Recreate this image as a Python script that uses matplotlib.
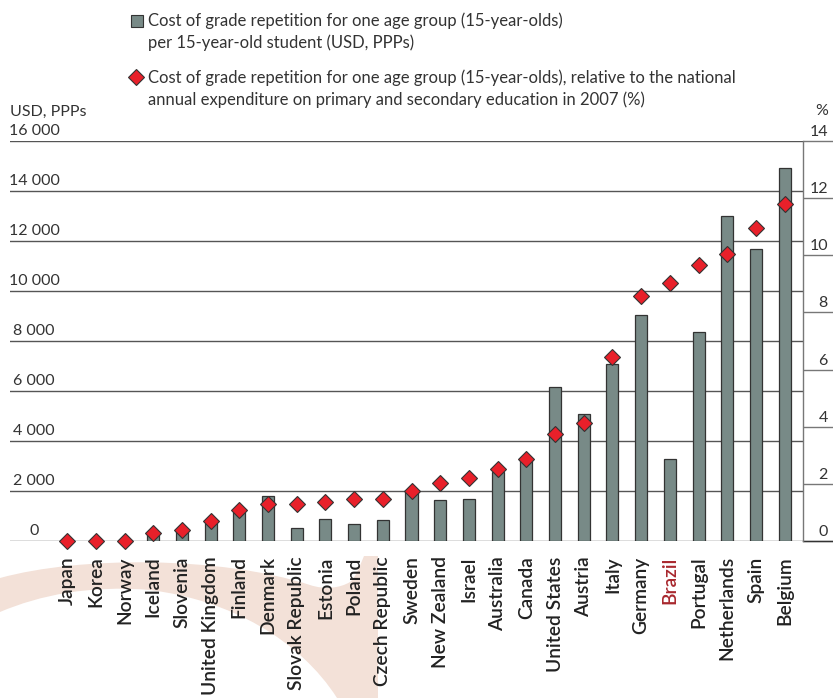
import matplotlib
matplotlib.use("Agg")
import matplotlib.pyplot as plt
from matplotlib.path import Path
from matplotlib.patches import PathPatch, Rectangle
from matplotlib.lines import Line2D
import matplotlib.transforms as mtransforms

countries = ["Japan", "Korea", "Norway", "Iceland", "Slovenia", "United Kingdom",
             "Finland", "Denmark", "Slovak Republic", "Estonia", "Poland",
             "Czech Republic", "Sweden", "New Zealand", "Israel", "Australia",
             "Canada", "United States", "Austria", "Italy", "Germany", "Brazil",
             "Portugal", "Netherlands", "Spain", "Belgium"]
cost_usd = [0, 0, 0, 300, 400, 710, 1170, 1800, 510, 890, 670, 850, 1950,
            1630, 1670, 2770, 3240, 6170, 5100, 7100, 9050, 3270, 8380,
            13010, 11680, 14920]
cost_pct = [0, 0, 0, 0.27, 0.38, 0.70, 1.09, 1.30, 1.31, 1.37, 1.46, 1.48,
            1.74, 2.02, 2.20, 2.51, 2.88, 3.73, 4.13, 6.44, 8.57, 9.04, 9.65,
            10.04, 10.97, 11.81]
left_ticks = [0, 2000, 4000, 6000, 8000, 10000, 12000, 14000, 16000]
left_labels = ["0", "2 000", "4 000", "6 000", "8 000", "10 000", "12 000",
               "14 000", "16 000"]
right_ticks = [0, 2, 4, 6, 8, 10, 12, 14]

bar_color = "#788a87"
diamond_color = "#e8202a"
brazil_color = "#a8282e"
font = "Lato"

W, H = 833, 698
fig = plt.figure(figsize=(W / 100, H / 100), dpi=100)

# faint background swoosh (decoration only)
px = lambda x, y: (x / W, 1 - y / H)
verts = [px(0, 578), px(80, 556), px(220, 556), px(310, 585),
         px(325, 590), px(340, 588), px(350, 582),
         px(358, 575), px(361, 562), px(364, 556),
         px(378, 556), px(378, 698), px(337, 698),
         px(300, 640), px(230, 600), px(150, 590),
         px(90, 585), px(40, 595), px(0, 612), px(0, 578)]
codes = ([Path.MOVETO] + [Path.CURVE4] * 3 + [Path.CURVE4] * 3 +
         [Path.CURVE4] * 3 + [Path.LINETO] * 3 + [Path.CURVE4] * 3 +
         [Path.CURVE4] * 3 + [Path.CLOSEPOLY])
fig.patches.append(PathPatch(Path(verts, codes), transform=fig.transFigure,
                             facecolor="#f3e1d8", edgecolor="none", zorder=-5))

ax = fig.add_axes([10 / W, 1 - 541 / H, 793 / W, 400 / H])
ax.set_facecolor("none")
ax.set_zorder(2)
x = list(range(len(countries)))

ax.bar(x, cost_usd, width=0.42, color=bar_color, edgecolor="#333333",
       linewidth=0.9, zorder=3)
ax.set_xlim(-1.99, 25.64)
ax.set_ylim(0, 16000)
for t in left_ticks:
    ax.axhline(t, color="#555555", linewidth=1.0, zorder=1)
ax.set_yticks([])
ax.set_xticks(x)
ax.set_xticklabels(countries, rotation=90, fontsize=13.8, family=font,
                   fontweight="semibold", color="#222222")
ax.tick_params(axis="x", length=0, pad=11)
ax.get_xticklabels()[countries.index("Brazil")].set_color(brazil_color)
for s in ax.spines.values():
    s.set_visible(False)

trans_l = mtransforms.blended_transform_factory(ax.transAxes, ax.transData)
for t, lab in zip(left_ticks, left_labels):
    ax.text(0.0303, t + 120, lab, transform=trans_l, ha="center", va="bottom",
            fontsize=11.5, family=font, color="#333333")
ax.text(0.0, 16000 + 900, "USD, PPPs", transform=trans_l, ha="left",
        va="bottom", fontsize=11.5, family=font, color="#333333")

ax2 = ax.twinx()
ax2.set_zorder(3)
ax2.set_ylim(0, 14)
ax2.plot(x, cost_pct, linestyle="none", marker="D", markersize=8,
         markerfacecolor=diamond_color, markeredgecolor="#333333",
         markeredgewidth=0.8, zorder=5, clip_on=False)
ax2.set_yticks(right_ticks)
ax2.set_yticklabels([])
ax2.tick_params(axis="y", length=21.6, width=1.0, color="#777777",
                direction="out")
for s in ["top", "left", "bottom"]:
    ax2.spines[s].set_visible(False)
ax2.spines["right"].set_color("#777777")
ax2.spines["right"].set_linewidth(1.0)
trans_r = mtransforms.blended_transform_factory(ax2.transAxes, ax2.transData)
for t in right_ticks:
    ax2.text(1.0315, t + 0.07, str(t), transform=trans_r, ha="right",
             va="bottom", fontsize=11.5, family=font, color="#333333")
ax2.text(1.0315, 14 + 0.8, "%", transform=trans_r, ha="right", va="bottom",
         fontsize=11.5, family=font, color="#333333")
ax2.plot([1.0, 1.04], [0, 0], transform=trans_r, color="#333333",
         linewidth=1.0, clip_on=False)

# legend
fig.patches.append(Rectangle(px(131, 27), 12 / W, 12 / H,
                             transform=fig.transFigure, facecolor=bar_color,
                             edgecolor="#333333", linewidth=0.8))
fig.text(148 / W, 1 - 31.5 / H,
         "Cost of grade repetition for one age group (15-year-olds)\n"
         "per 15-year-old student (USD, PPPs)",
         ha="left", va="center", fontsize=12, family=font, color="#333333",
         linespacing=1.38)
fig.lines.append(Line2D([136 / W], [1 - 77 / H], transform=fig.transFigure,
                        marker="D", markersize=8, markerfacecolor=diamond_color,
                        markeredgecolor="#333333", markeredgewidth=0.8))
fig.text(148 / W, 1 - 88.5 / H,
         "Cost of grade repetition for one age group (15-year-olds), relative to the national\n"
         "annual expenditure on primary and secondary education in 2007 (%)",
         ha="left", va="center", fontsize=12, family=font, color="#333333",
         linespacing=1.38)

fig.savefig("out.png", dpi=100)
